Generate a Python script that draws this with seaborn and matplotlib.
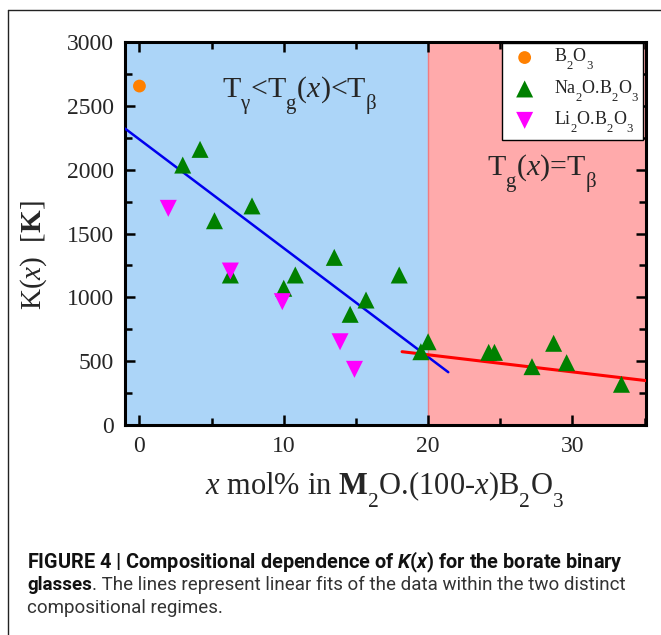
import matplotlib
matplotlib.use("Agg")
import matplotlib.pyplot as plt
import seaborn as sns
import numpy as np
import pandas as pd
from matplotlib import font_manager
from matplotlib.lines import Line2D
from matplotlib.ticker import MultipleLocator

# deeper subscripts (Origin-like typesetting)
try:
    import matplotlib._mathtext as _mt
    _mt.FontConstantsBase.sub1 = 0.9
    _mt.FontConstantsBase.sub2 = 0.9
except Exception:
    pass

# ---------------- data ----------------
b2o3_x = [0.0]
b2o3_k = [2655]

na_x = [3.0, 4.2, 5.2, 6.3, 7.8, 10.0, 10.8, 13.5, 14.6, 15.7, 18.0, 19.5, 20.0,
        24.2, 24.6, 27.2, 28.7, 29.6, 33.4]
na_k = [2036, 2159, 1600, 1175, 1716, 1071, 1175, 1313, 867, 979, 1175, 574, 652,
        569, 569, 457, 640, 488, 319]

li_x = [2.0, 6.3, 9.9, 13.9, 14.9]
li_k = [1697, 1206, 966, 652, 436]

# linear fits shown in the figure (intercept, slope, x-range)
fit1_intercept, fit1_slope, fit1_range = 2237.0, -85.2, [-1.0, 21.4]
fit2_intercept, fit2_slope, fit2_range = 818.0, -13.4, [18.2, 35.2]

series_labels = [r"$\mathrm{B_2O_3}$",
                 r"$\mathrm{Na_2O}$.$\mathrm{B_2O_3}$",
                 r"$\mathrm{Li_2O}$.$\mathrm{B_2O_3}$"]
x_ticks = [0, 10, 20, 30]
y_ticks = [0, 500, 1000, 1500, 2000, 2500, 3000]
regime_boundary = 20

caption1 = r"FIGURE 4 | Compositional dependence of $\mathbfit{K}$($\mathbfit{x}$) for the borate binary"
caption2_bold = "glasses"
caption2_rest = ". The lines represent linear fits of the data within the two distinct"
caption3 = "compositional regimes."

# ---------------- style ----------------
sns.set_theme(style="white")
plt.rcParams["font.family"] = ["Liberation Serif", "DejaVu Serif"]
plt.rcParams["mathtext.fontset"] = "custom"
plt.rcParams["mathtext.rm"] = "Liberation Serif"
plt.rcParams["mathtext.it"] = "Liberation Serif:italic"
plt.rcParams["mathtext.bf"] = "Liberation Serif:bold"
names = {f.name for f in font_manager.fontManager.ttflist}
cap_font = "Liberation Sans Narrow" if "Liberation Sans Narrow" in names else "Roboto"
try:
    plt.rcParams["mathtext.bfit"] = f"{cap_font}:italic:bold"
except KeyError:
    pass

W, H = 661, 635
fig = plt.figure(figsize=(W / 100, H / 100), dpi=100)
fig.patch.set_facecolor("white")
ax = fig.add_axes([125 / W, 1 - 425 / H, (646 - 125) / W, (425 - 42) / H])

xmin, xmax = -1.0, 35.1
ax.set_xlim(xmin, xmax)
ax.set_ylim(0, 3000)

ax.axvspan(xmin - 5, regime_boundary, color="#acd5f8", lw=0, zorder=0)
ax.axvspan(regime_boundary, xmax + 5, facecolor="#ffaaab", edgecolor="#f07c80",
           lw=1.0, zorder=0)

# fit lines
fx1 = np.array(fit1_range)
fx2 = np.array(fit2_range)
df_fit1 = pd.DataFrame({"x": fx1, "k": fit1_intercept + fit1_slope * fx1})
df_fit2 = pd.DataFrame({"x": fx2, "k": fit2_intercept + fit2_slope * fx2})
sns.lineplot(data=df_fit1, x="x", y="k", ax=ax, color="#0000ee", lw=1.8, zorder=3)
sns.lineplot(data=df_fit2, x="x", y="k", ax=ax, color="#ff0000", lw=2.2, zorder=3)

# points
sns.scatterplot(x=b2o3_x, y=b2o3_k, ax=ax, marker="o", color="#ff8000", s=85,
                edgecolor="none", label=series_labels[0], zorder=4)
sns.scatterplot(x=na_x, y=na_k, ax=ax, marker="^", color="#008000", s=150,
                edgecolor="none", label=series_labels[1], zorder=4)
sns.scatterplot(x=li_x, y=li_k, ax=ax, marker="v", color="#ff00ff", s=150,
                edgecolor="none", label=series_labels[2], zorder=5)

# axes styling
for sp in ax.spines.values():
    sp.set_visible(True)
    sp.set_color("black")
    sp.set_linewidth(2.2)
ax.set_xticks(x_ticks)
ax.set_yticks(y_ticks)
ax.xaxis.set_minor_locator(MultipleLocator(5))
ax.yaxis.set_minor_locator(MultipleLocator(250))
ax.tick_params(which="both", direction="in", top=True, right=True,
               bottom=True, left=True, width=1.8, color="black")
ax.tick_params(which="major", length=7, labelsize=17, pad=8)
ax.tick_params(which="minor", length=5)
ax.set_xlabel("")
ax.set_ylabel("")

# legend
leg = ax.legend(loc="upper right", bbox_to_anchor=(0.995, 0.998), fontsize=13,
                frameon=True, fancybox=False, framealpha=1, edgecolor="black",
                borderpad=0.25, labelspacing=0.35, handletextpad=0.6,
                handlelength=2.0, borderaxespad=0)
leg.get_frame().set_linewidth(1.0)

# regime annotations
ax.text(0.336, 0.854, r"$\mathrm{T_{\gamma}}$<$\mathrm{T_{g}}$($x$)<$\mathrm{T_{\beta}}$",
        transform=ax.transAxes, ha="center", va="baseline", fontsize=21.5)
ax.text(0.80, 0.648, r"$\mathrm{T_{g}}$($x$)=$\mathrm{T_{\beta}}$",
        transform=ax.transAxes, ha="center", va="baseline", fontsize=21.5)

# axis labels
fig.text(34 / W, 1 - 255 / H, r"K($x$)  [$\mathbf{K}$]", rotation=90,
         ha="center", va="center", fontsize=21)
fig.text(385 / W, 1 - 490 / H,
         r"$x$ mol% in $\mathbf{M}_{\mathrm{2}}\mathrm{O}$.(100-$x$)$\mathrm{B_2O_3}$",
         ha="center", va="center", fontsize=22)

# frame lines of the figure panel
fig.add_artist(Line2D([8 / W, 1.0], [1 - 10 / H, 1 - 10 / H], transform=fig.transFigure,
                      color="#222222", lw=1.0))
fig.add_artist(Line2D([8 / W, 8 / W], [0.0, 1 - 10 / H], transform=fig.transFigure,
                      color="#222222", lw=1.0))

# caption
cap_x = 27 / W
target_w = 595.0
fam = [cap_font, "DejaVu Sans"]
base = 12.0
t1 = fig.text(cap_x, 1 - 568 / H, caption1, fontsize=base, fontweight="bold",
              family=fam, va="baseline", color="#111111")
t2a = fig.text(cap_x, 1 - 590.5 / H, caption2_bold, fontsize=base, fontweight="bold",
               family=fam, va="baseline", color="#111111")
t2b = fig.text(cap_x, 1 - 590.5 / H, caption2_rest, fontsize=base,
               family=fam, va="baseline", color="#333333")
fig.canvas.draw()
r = fig.canvas.get_renderer()
s1 = base * target_w / t1.get_window_extent(r).width
w2 = t2a.get_window_extent(r).width + t2b.get_window_extent(r).width
s2 = base * target_w / w2
t1.set_fontsize(s1)
t2a.set_fontsize(s2)
t2b.set_fontsize(s2)
fig.canvas.draw()
wa = t2a.get_window_extent(r).width
t2b.set_x(cap_x + wa / W)
fig.text(cap_x, 1 - 613 / H, caption3, fontsize=s2,
         family=fam, va="baseline", color="#333333")

fig.savefig("out.png", dpi=100)
